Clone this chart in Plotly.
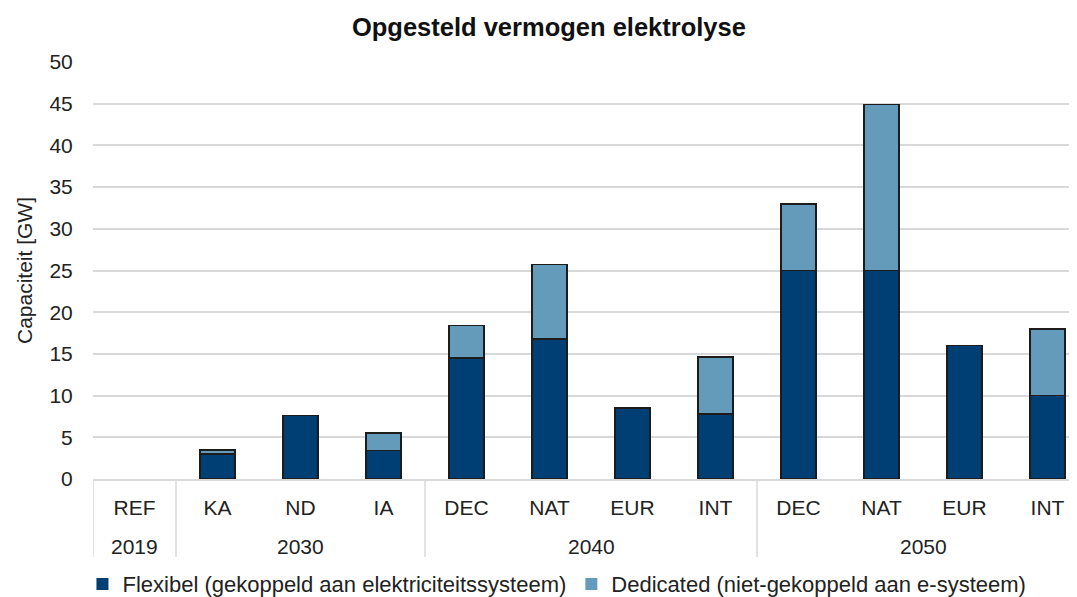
import plotly.graph_objects as go

# data
years = ["2019", "2030", "2030", "2030", "2040", "2040", "2040", "2040",
         "2050", "2050", "2050", "2050"]
scenarios = ["REF", "KA", "ND", "IA", "DEC", "NAT", "EUR", "INT",
             "DEC", "NAT", "EUR", "INT"]
flexibel = [0, 3.0, 7.6, 3.4, 14.5, 16.8, 8.5, 7.8, 25.0, 25.0, 16.0, 10.0]
dedicated = [0, 0.5, 0, 2.1, 3.9, 8.9, 0, 6.8, 8.0, 19.9, 0, 8.0]

font_family = "Liberation Sans, Arial, sans-serif"
idx = list(range(len(scenarios)))

fig = go.Figure()
fig.add_trace(go.Bar(x=idx, y=flexibel,
                     name="Flexibel (gekoppeld aan elektriciteitssysteem)",
                     marker=dict(color="#003F73",
                                 line=dict(color="#1c1c1c", width=[1.5 if v > 0 else 0 for v in flexibel]))))
fig.add_trace(go.Bar(x=idx, y=dedicated,
                     name="Dedicated (niet-gekoppeld aan e-systeem)",
                     marker=dict(color="#659BBA",
                                 line=dict(color="#1c1c1c", width=[1.5 if v > 0 else 0 for v in dedicated]))))

# jaar-groepen onder de as: labels en scheidingslijnen
groups = []
for i, yr in enumerate(years):
    if not groups or groups[-1][0] != yr:
        groups.append([yr, i, i])
    else:
        groups[-1][2] = i

for yr, first, last in groups:
    fig.add_annotation(x=(first + last) / 2, y=-0.161, xref="x", yref="paper",
                       text=yr, showarrow=False, yanchor="middle",
                       font=dict(size=21, color="#222"))
    fig.add_shape(type="line", x0=first - 0.5, x1=first - 0.5, y0=0, y1=-0.187,
                  xref="x", yref="paper", line=dict(color="#d9d9d9", width=1.5))

# pagina heeft 8px body-marge, dus figuur 8px kleiner
fig.update_layout(
    barmode="stack",
    bargap=0.58,
    width=1069, height=589,
    margin=dict(l=85, r=0, t=54, b=118, autoexpand=False),
    plot_bgcolor="white",
    paper_bgcolor="white",
    font=dict(family=font_family, size=21, color="#222"),
    title=dict(text="<b>Opgesteld vermogen elektrolyse</b>", x=0.506, xanchor="center",
               y=0.968, yanchor="middle", font=dict(size=25.5, color="#111")),
    legend=dict(orientation="h", x=0.4715, xanchor="center", y=-0.252, yanchor="middle",
                font=dict(size=22), traceorder="normal"),
    showlegend=True,
)

fig.update_yaxes(range=[0, 50], dtick=5, showgrid=True, gridcolor="#d9d9d9", gridwidth=1.5,
                 zeroline=False, showline=False, automargin=False,
                 ticks="outside", ticklen=15, tickcolor="rgba(0,0,0,0)",
                 tickfont=dict(size=21),
                 title=dict(text="Capaciteit [GW]", font=dict(size=21), standoff=11))
fig.update_xaxes(range=[-0.5, 11.355], tickvals=idx, ticktext=scenarios,
                 showgrid=False, zeroline=False, automargin=False,
                 showline=True, linecolor="#d9d9d9", linewidth=1.5,
                 ticks="outside", ticklen=9, tickcolor="rgba(0,0,0,0)",
                 tickfont=dict(size=21))

fig.write_html("out.html")
